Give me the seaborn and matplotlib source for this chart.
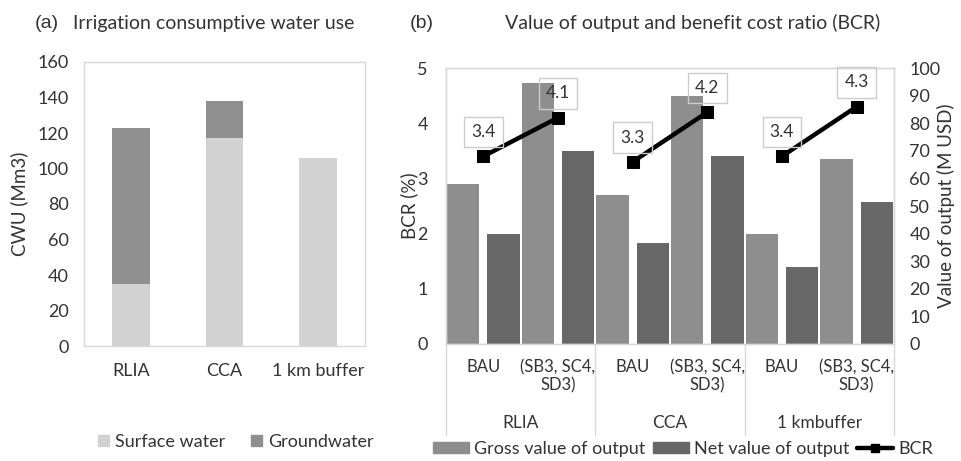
import numpy as np
import pandas as pd
import matplotlib
matplotlib.use('Agg')
import matplotlib.pyplot as plt
import seaborn as sns
from matplotlib.patches import Patch
from matplotlib.lines import Line2D

# data
regions_a = ['RLIA', 'CCA', '1 km buffer']
surface_water = [35, 117, 106]
groundwater = [88, 21, 0]

regions_b = ['RLIA', 'CCA', '1 kmbuffer']
scenarios = ['BAU', '(SB3, SC4,\nSD3)']
gross_value = [58, 94.5, 54, 90, 40, 67]
net_value = [40, 70, 36.5, 68, 28, 51.5]
bcr = [3.4, 4.1, 3.3, 4.2, 3.4, 4.3]

SW_COL = '#d2d2d2'
GW_COL = '#8f8f8f'
GROSS_COL = '#8e8e8e'
NET_COL = '#676767'
FRAME = '#d9d9d9'
TXT = '#333333'

sns.set_theme(style='white')
plt.rcParams['font.family'] = ['Lato', 'DejaVu Sans']
plt.rcParams['text.color'] = TXT
plt.rcParams['axes.labelcolor'] = TXT
plt.rcParams['xtick.color'] = TXT
plt.rcParams['ytick.color'] = TXT

fig = plt.figure(figsize=(9.61, 4.61), dpi=100)

# ---- panel (a): stacked bars
ax_a = fig.add_axes([84 / 961, 1 - 346 / 461, 281 / 961, 284 / 461])
df_a = pd.DataFrame({'region': regions_a, 'sw': surface_water, 'gw': groundwater})
df_a['total'] = df_a['sw'] + df_a['gw']
sns.barplot(data=df_a, x='region', y='total', color=GW_COL, saturation=1,
            width=0.4, edgecolor='none', linewidth=0, ax=ax_a)
sns.barplot(data=df_a, x='region', y='sw', color=SW_COL, saturation=1,
            width=0.4, edgecolor='none', linewidth=0, ax=ax_a)
ax_a.set_xlim(-0.5, 2.5)
ax_a.set_ylim(0, 160)
ax_a.set_yticks(range(0, 161, 20))
ax_a.set_xlabel('')
ax_a.set_ylabel('CWU (Mm3)', fontsize=13.5)
ax_a.yaxis.set_label_coords(-0.2, 0.5)
ax_a.tick_params(axis='y', length=0, pad=11, labelsize=13)
ax_a.tick_params(axis='x', length=0, pad=12, labelsize=13)
for s in ax_a.spines.values():
    s.set_color(FRAME)
    s.set_linewidth(1)

fig.legend(handles=[Patch(color=SW_COL, label='Surface water'),
                    Patch(color=GW_COL, label='Groundwater')],
           loc='center', bbox_to_anchor=(236 / 961, 1 - 442 / 461), ncol=2,
           frameon=False, fontsize=13, handlelength=0.6, handleheight=0.6,
           handletextpad=0.35, columnspacing=1.4)

# ---- panel (b): bars on right axis, BCR line on left axis
ax_b = fig.add_axes([446 / 961, 1 - 344 / 461, 448 / 961, 276 / 461])
pos = np.arange(len(gross_value))
df_b = pd.DataFrame({
    'pos': np.concatenate([pos, pos]),
    'value': gross_value + net_value,
    'series': ['Gross value of output'] * len(pos) + ['Net value of output'] * len(pos),
})
sns.barplot(data=df_b, x='pos', y='value', hue='series',
            palette=[GROSS_COL, NET_COL], saturation=1, width=1.08, gap=0.2,
            edgecolor='none', linewidth=0, legend=False, ax=ax_b)
ax_l = ax_b.twinx()  # twinx resets ticks of ax_b, so set them afterwards

ax_b.set_xlim(-0.5, 5.5)
ax_b.set_ylim(0, 100)
ax_b.set_yticks(range(0, 101, 10))
ax_b.yaxis.tick_right()
ax_b.yaxis.set_label_position('right')
ax_b.set_ylabel('Value of output (M USD)', fontsize=13.5)
ax_b.yaxis.set_label_coords(1.096, 0.5)
ax_b.set_xlabel('')
ax_b.set_xticks(pos)
ax_b.set_xticklabels(scenarios * len(regions_b), fontsize=12, linespacing=1.15)
ax_b.tick_params(axis='x', length=0, pad=11)
ax_b.tick_params(axis='y', length=0, pad=11, labelsize=13)

ax_l.yaxis.tick_left()
ax_l.yaxis.set_label_position('left')
df_line = pd.DataFrame({'pos': pos, 'bcr': bcr,
                        'region': np.repeat(regions_b, len(scenarios))})
sns.lineplot(data=df_line, x='pos', y='bcr', units='region', estimator=None,
             color='black', linewidth=3.2, marker='s', markersize=8,
             markeredgecolor='black', legend=False, ax=ax_l)
for x, v in zip(df_line['pos'], df_line['bcr']):
    ax_l.annotate(f'{v:.1f}', (x, v), xytext=(0, 17.5), textcoords='offset points',
                  ha='center', va='center', fontsize=12.5,
                  bbox=dict(boxstyle='square,pad=0.42', fc='none', ec='#cccccc', lw=1))
ax_l.set_ylim(0, 5)
ax_l.set_yticks(range(0, 6))
ax_l.set_ylabel('BCR (%)', fontsize=13.5)
ax_l.yaxis.set_label_coords(-0.062, 0.5)
ax_l.set_xlabel('')
ax_l.tick_params(axis='y', length=0, pad=13, labelsize=13)
for a in (ax_b, ax_l):
    for s in a.spines.values():
        s.set_color(FRAME)
        s.set_linewidth(1)

# group labels and separators under the axis
for i, name in enumerate(regions_b):
    ax_b.text(2 * i + 0.5, -0.286, name, transform=ax_b.get_xaxis_transform(),
              ha='center', va='center', fontsize=12.5)
for xb in np.arange(-0.5, 6, 2):
    ax_b.plot([xb, xb], [0, -0.33], transform=ax_b.get_xaxis_transform(),
              color=FRAME, lw=1, clip_on=False)

fig.legend(handles=[Patch(color=GROSS_COL, label='Gross value of output'),
                    Patch(color=NET_COL, label='Net value of output'),
                    Line2D([], [], color='black', lw=3.2, marker='s', markersize=6,
                           label='BCR')],
           loc='center', bbox_to_anchor=(683 / 961, 1 - 449 / 461), ncol=3,
           frameon=False, fontsize=13, handlelength=2.0, handleheight=0.6,
           handletextpad=0.3, columnspacing=0.4)

# titles
fig.text(35 / 961, 1 - 23 / 461, '(a)', family='Liberation Sans', fontsize=14, va='center')
fig.text(73 / 961, 1 - 23 / 461, 'Irrigation consumptive water use', fontsize=14, va='center')
fig.text(410 / 961, 1 - 23 / 461, '(b)', family='Liberation Sans', fontsize=14, va='center')
fig.text(505 / 961, 1 - 23 / 461, 'Value of output and benefit cost ratio (BCR)',
         fontsize=14, va='center')

fig.savefig('out.png', dpi=100, facecolor='white')
